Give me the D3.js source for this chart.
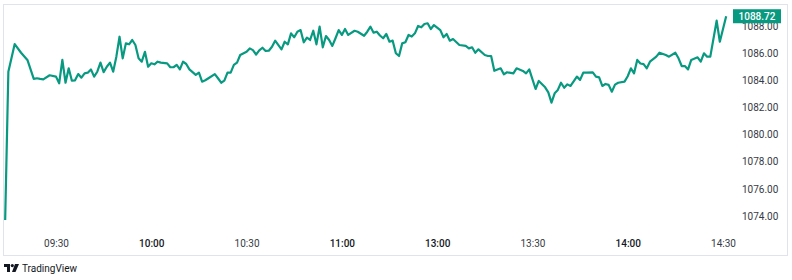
<!DOCTYPE html>
<meta charset='utf-8'>
<title>Intraday line</title>
<style>
body {
  margin: 0;
  background-color: #fff;
}
text {
  font-family: Roboto, "Noto Sans", sans-serif;
}
</style>
<svg width="792" height="280"></svg>
<script src="https://cdn.jsdelivr.net/npm/d3@7"></script>
<script>

// trading minutes counted from 09:30, lunch break (11:30-13:00) removed
var minutes = [-16, -15, -13, -11, -9, -7, -6, -5, -4, -2,
  0, 1, 2, 3, 4, 5, 6, 7, 8, 9,
  10, 11, 12, 13, 14, 15, 16, 17, 18, 19,
  20, 21, 22, 23, 24, 25, 26, 27, 28, 29,
  30, 31, 32, 33, 35, 36, 37, 38, 39, 40,
  41, 42, 44, 45, 46, 47, 48, 50, 51, 52,
  53, 54, 55, 56, 57, 58, 60, 61, 62, 63,
  64, 65, 66, 67, 68, 69, 71, 72, 73, 74,
  75, 76, 77, 78, 79, 80, 81, 82, 83, 84,
  85, 86, 87, 88, 89, 90, 91, 92, 94, 95,
  97, 98, 99, 100, 101, 102, 103, 104, 105, 106,
  107, 108, 109, 110, 111, 112, 113, 114, 115, 116,
  117, 118, 119, 121, 122, 123, 124, 125, 127, 129,
  130, 131, 132, 133, 135, 136, 137, 138, 140, 141,
  142, 144, 145, 147, 148, 149, 151, 152, 154, 155,
  156, 157, 158, 159, 160, 161, 162, 164, 165, 166,
  167, 169, 170, 171, 172, 173, 174, 175, 176, 177,
  179, 180, 181, 182, 183, 184, 185, 186, 187, 189,
  190, 192, 193, 195, 196, 197, 198, 199, 200, 202,
  203, 204, 205, 206, 208, 209, 211];

var prices = [1073.70, 1084.63, 1086.67, 1086.03, 1085.50, 1084.10, 1084.15, 1084.10, 1084.07, 1084.37,
  1084.27, 1083.78, 1085.50, 1083.82, 1084.88, 1083.97, 1084.00, 1084.46, 1084.19, 1084.51,
  1084.56, 1084.80, 1084.27, 1084.63, 1085.30, 1084.60, 1085.00, 1085.30, 1084.63, 1085.74,
  1087.21, 1085.62, 1086.72, 1086.65, 1086.97, 1086.60, 1085.62, 1085.37, 1086.10, 1085.00,
  1085.25, 1085.18, 1085.37, 1085.30, 1085.25, 1084.96, 1084.96, 1085.13, 1084.80, 1085.37,
  1085.20, 1084.80, 1084.40, 1084.56, 1083.90, 1084.00, 1084.15, 1084.46, 1084.15, 1083.82,
  1083.97, 1084.56, 1084.56, 1085.13, 1085.30, 1085.86, 1086.10, 1086.35, 1086.22, 1085.90,
  1086.20, 1086.40, 1086.16, 1086.18, 1086.47, 1086.92, 1086.28, 1086.84, 1086.65, 1087.46,
  1087.17, 1087.58, 1087.70, 1086.80, 1087.14, 1086.97, 1087.65, 1086.65, 1087.95, 1086.43,
  1087.26, 1086.97, 1086.53, 1087.10, 1087.70, 1087.34, 1087.78, 1087.34, 1087.65, 1087.58,
  1087.28, 1087.58, 1087.95, 1087.51, 1087.58, 1087.30, 1087.10, 1087.41, 1086.84, 1086.92,
  1085.99, 1085.79, 1086.72, 1086.80, 1087.34, 1087.22, 1087.46, 1088.00, 1087.90, 1088.15,
  1088.20, 1087.78, 1088.07, 1087.70, 1087.17, 1087.41, 1086.92, 1087.04, 1086.60, 1086.53,
  1086.35, 1086.43, 1086.03, 1086.28, 1085.86, 1085.79, 1085.79, 1084.70, 1084.88, 1084.44,
  1084.59, 1084.51, 1084.88, 1084.69, 1084.51, 1084.80, 1083.36, 1083.95, 1083.48, 1083.11,
  1082.35, 1083.04, 1083.29, 1083.82, 1083.45, 1083.70, 1083.58, 1084.27, 1084.03, 1084.56,
  1084.56, 1084.59, 1084.27, 1084.22, 1083.58, 1083.73, 1083.66, 1083.16, 1083.68, 1083.82,
  1083.90, 1084.30, 1084.88, 1084.51, 1085.50, 1085.24, 1085.19, 1084.88, 1085.37, 1085.74,
  1086.03, 1085.86, 1085.74, 1086.03, 1085.62, 1085.05, 1085.05, 1084.80, 1085.50, 1085.69,
  1085.37, 1085.99, 1085.74, 1085.74, 1088.39, 1086.84, 1088.72];

var timeTicks = [0, 30, 60, 90, 120, 150, 180, 210];
var timeLabels = ["09:30", "10:00", "10:30", "11:00", "13:00", "13:30", "14:00", "14:30"];
var priceTicks = [1074, 1076, 1078, 1080, 1082, 1084, 1086, 1088];

var svg = d3.select("svg");

var x = d3.scaleLinear()
    .domain([0, 210])
    .range([56, 723]);

var y = d3.scaleLinear()
    .domain([1074, 1088])
    .range([216, 26]);

var data = minutes.map(function(m, i) { return { t: m, v: prices[i] }; });

// frame
svg.append("rect")
    .attr("x", 3.5)
    .attr("y", 4.5)
    .attr("width", 784)
    .attr("height", 251)
    .attr("fill", "none")
    .attr("stroke", "#e0e3eb")
    .attr("stroke-width", 1);

// price axis on the right
var yAxis = d3.axisRight(y)
    .tickValues(priceTicks)
    .tickSize(0)
    .tickPadding(0)
    .tickFormat(d3.format(".2f"));

var gy = svg.append("g")
    .attr("transform", "translate(742,0)")
    .call(yAxis);

gy.select(".domain").remove();
gy.selectAll("text")
    .attr("font-family", "Roboto, sans-serif")
    .attr("font-size", 10)
    .attr("fill", "#363a45");

// time axis at the bottom
var xAxis = d3.axisBottom(x)
    .tickValues(timeTicks)
    .tickSize(0)
    .tickPadding(0)
    .tickFormat(function(d, i) { return timeLabels[i]; });

var gx = svg.append("g")
    .attr("transform", "translate(0,240)")
    .call(xAxis);

gx.select(".domain").remove();
gx.selectAll("text")
    .attr("font-family", "Roboto, sans-serif")
    .attr("font-size", 10)
    .attr("fill", function(d, i) { return timeLabels[i].slice(3) === "00" ? "#131722" : "#363a45"; })
    .attr("font-weight", function(d, i) { return timeLabels[i].slice(3) === "00" ? 500 : 400; });

// price line
var line = d3.line()
    .x(function(d) { return x(d.t); })
    .y(function(d) { return y(d.v); });

svg.append("path")
    .datum(data)
    .attr("d", line)
    .attr("fill", "none")
    .attr("stroke", "#089981")
    .attr("stroke-width", 2.2)
    .attr("stroke-linejoin", "round");

// last price badge
var last = data[data.length - 1];

svg.append("rect")
    .attr("x", 733)
    .attr("y", y(last.v) - 7)
    .attr("width", 48)
    .attr("height", 14)
    .attr("fill", "#089981");

svg.append("text")
    .attr("x", 757)
    .attr("y", y(last.v))
    .attr("dy", "0.35em")
    .attr("text-anchor", "middle")
    .attr("font-size", 10)
    .attr("font-weight", 500)
    .attr("fill", "#fff")
    .text(d3.format(".2f")(last.v));

// TradingView mark
var logo = svg.append("g")
    .attr("transform", "translate(4,264)")
    .attr("fill", "#131722");

logo.append("path")
    .attr("d", "M0,0 H6 V8 H3 V3 H0 Z");
logo.append("circle")
    .attr("cx", 8.3)
    .attr("cy", 1.6)
    .attr("r", 1.6);
logo.append("path")
    .attr("d", "M11,0 H15 L11.5,8 H8 Z");

svg.append("text")
    .attr("x", 22)
    .attr("y", 272)
    .attr("font-size", 10)
    .attr("fill", "#131722")
    .text("TradingView");

</script>
